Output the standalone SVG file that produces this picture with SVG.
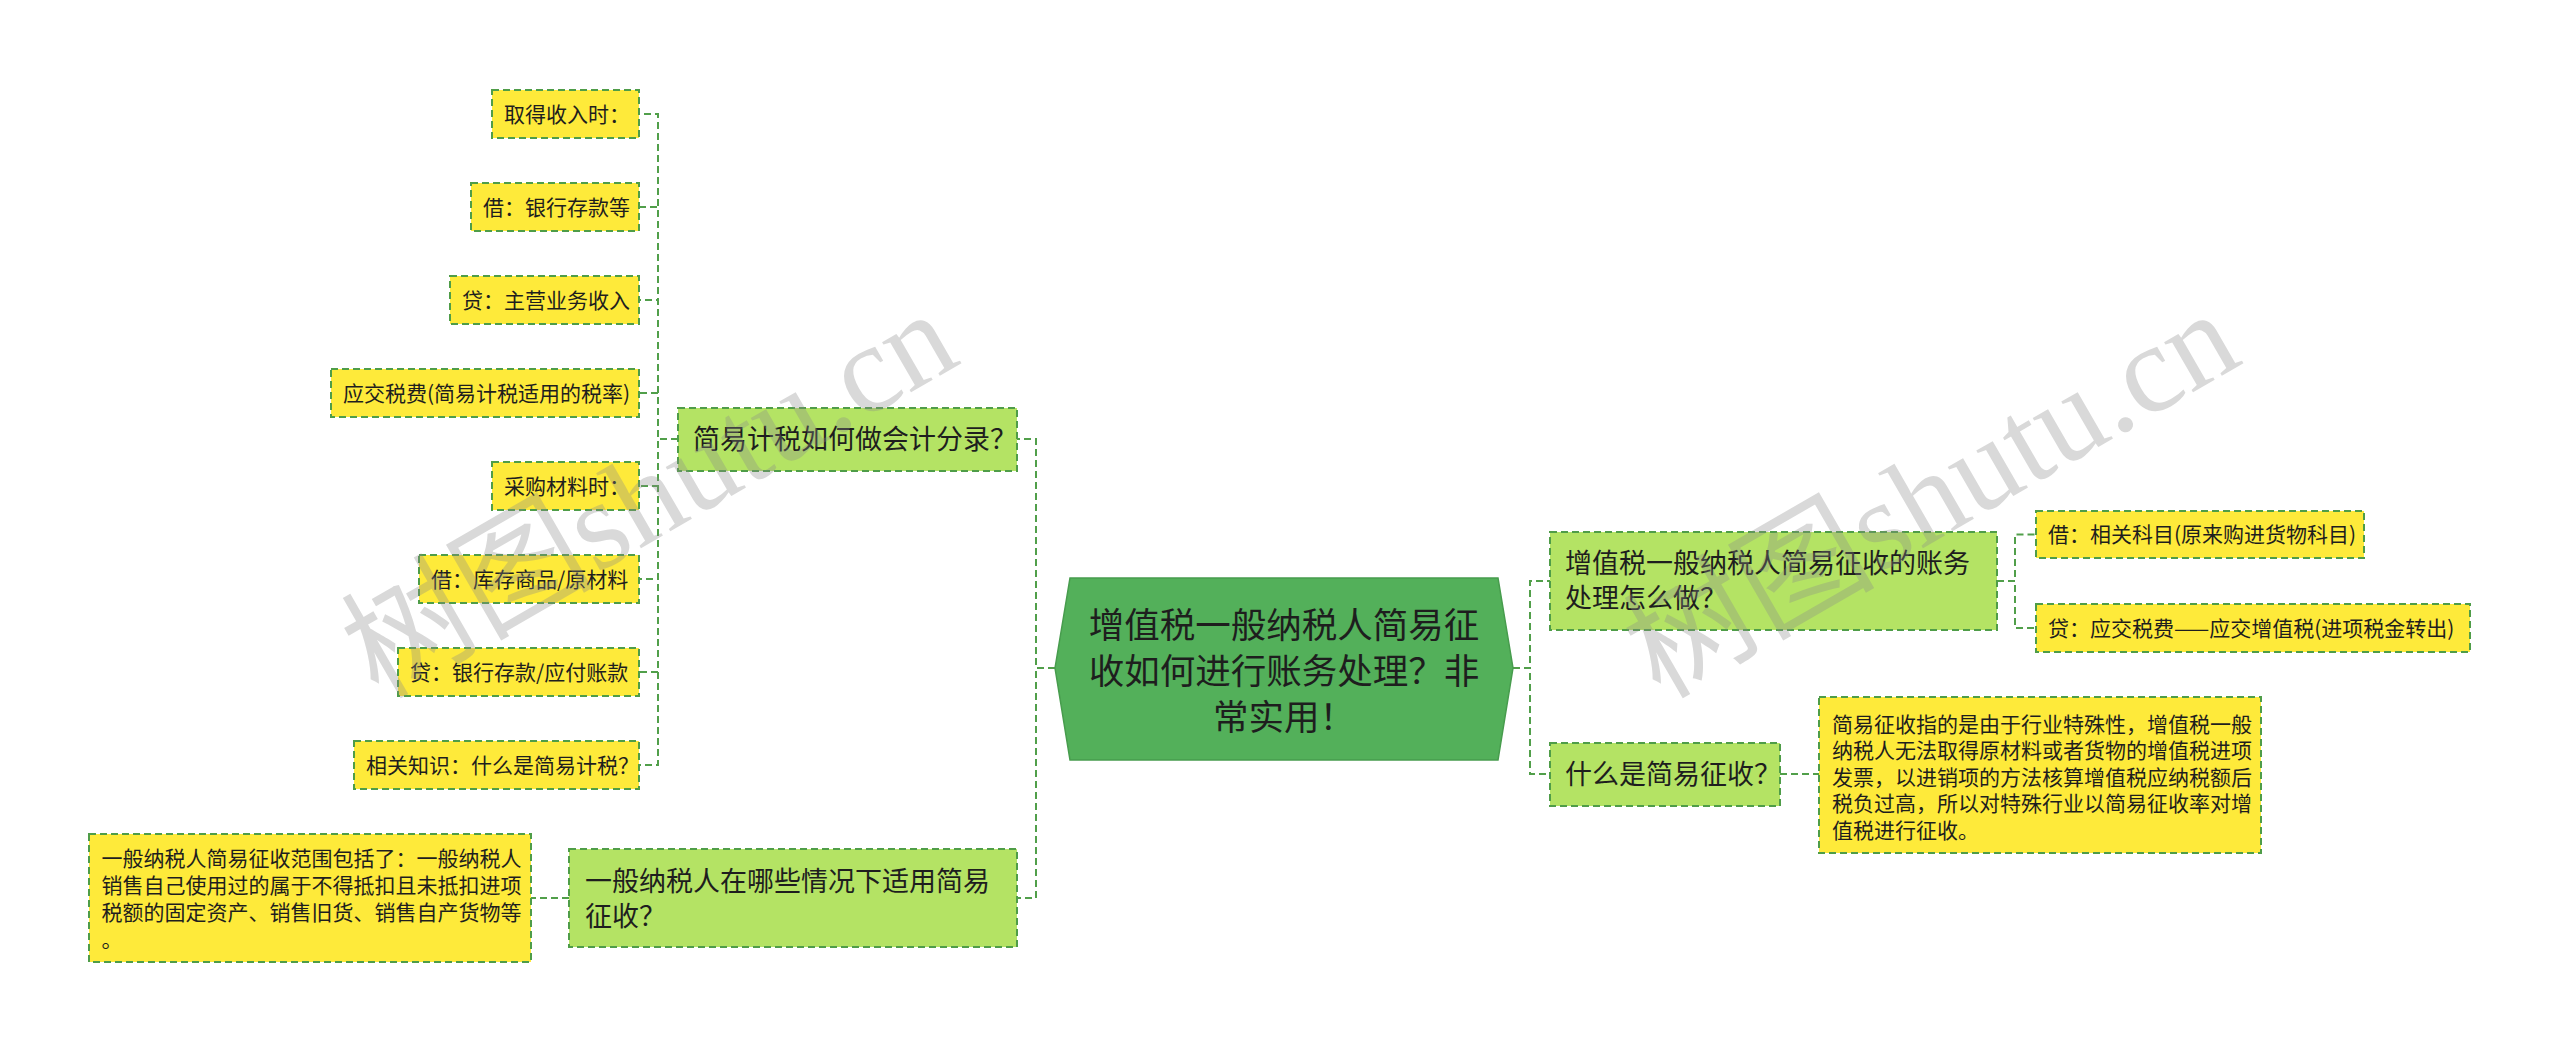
<svg xmlns="http://www.w3.org/2000/svg" width="2560" height="1053" viewBox="0 0 2560 1053">
<defs>
<style>
.t{font-family:"Noto Sans CJK SC","Noto Sans",sans-serif;fill:#1e1e1e}
.root{fill:#53b05a;stroke:#479c4d;stroke-width:1.5}
.l1{fill:#b4e364;stroke:#4f9d48;stroke-width:2;stroke-dasharray:7 4}
.leaf{fill:#feea3a;stroke:#4f9d48;stroke-width:2;stroke-dasharray:7 4}
.c{fill:none;stroke:#519f4a;stroke-width:2;stroke-dasharray:7 4}
.f36{font-size:35.5px}
.f27{font-size:27px}
.f21{font-size:21px}
.wm{font-family:"Liberation Serif","Noto Sans CJK SC",serif;font-size:126px;fill:#8a8a8a;opacity:0.32}
</style>
</defs>
<rect x="0" y="0" width="2560" height="1053" fill="#ffffff"/>

<g id="connectors">
<path class="c" d="M1055,668 H1036 V439 H1017"/>
<path class="c" d="M1055,668 H1036 V898 H1017"/>
<path class="c" d="M1513,668 H1530 V581 H1550"/>
<path class="c" d="M1513,668 H1530 V774 H1550"/>
<path class="c" d="M678,439 H658 V114 H639"/>
<path class="c" d="M678,439 H658 V207 H639"/>
<path class="c" d="M678,439 H658 V300 H639"/>
<path class="c" d="M678,439 H658 V393 H639"/>
<path class="c" d="M678,439 H658 V486 H639"/>
<path class="c" d="M678,439 H658 V579 H639"/>
<path class="c" d="M678,439 H658 V672 H639"/>
<path class="c" d="M678,439 H658 V765 H639"/>
<path class="c" d="M569,898 H531"/>
<path class="c" d="M1997,581 H2015 V534.5 H2036"/>
<path class="c" d="M1997,581 H2015 V628 H2036"/>
<path class="c" d="M1780,774 H1819"/>
</g>

<g id="root">
<polygon class="root" points="1055,668 1070,578 1498,578 1513,668 1498,760 1070,760"/>
<text class="t f36" x="1284" text-anchor="middle"><tspan x="1284" y="638">增值税一般纳税人简易征</tspan><tspan x="1284" y="684">收如何进行账务处理？非</tspan><tspan x="1284" y="730">常实用！</tspan></text>
</g>

<g id="n-jianyi-fenlu">
<rect class="l1" x="678" y="408" width="339" height="63"/>
<text class="t f27" x="693" y="449">简易计税如何做会计分录？</text>
</g>

<g id="n-qude">
<rect class="leaf" x="492" y="90" width="147" height="48"/>
<text class="t f21" x="504" y="121.5">取得收入时：</text>
</g>
<g id="n-jie-yinhang">
<rect class="leaf" x="471" y="183" width="168" height="48"/>
<text class="t f21" x="483" y="214.5">借：银行存款等</text>
</g>
<g id="n-dai-zhuying">
<rect class="leaf" x="450" y="276" width="189" height="48"/>
<text class="t f21" x="462" y="307.5">贷：主营业务收入</text>
</g>
<g id="n-yingjiao">
<rect class="leaf" x="331" y="369" width="308" height="48"/>
<text class="t f21" x="343" y="400.5">应交税费(简易计税适用的税率)</text>
</g>
<g id="n-caigou">
<rect class="leaf" x="492" y="462" width="147" height="48"/>
<text class="t f21" x="504" y="493.5">采购材料时：</text>
</g>
<g id="n-jie-kucun">
<rect class="leaf" x="419" y="555" width="220" height="48"/>
<text class="t f21" x="431" y="586.5">借：库存商品/原材料</text>
</g>
<g id="n-dai-yinhang">
<rect class="leaf" x="398" y="648" width="241" height="48"/>
<text class="t f21" x="410" y="679.5">贷：银行存款/应付账款</text>
</g>
<g id="n-xiangguan">
<rect class="leaf" x="354" y="741" width="285" height="48"/>
<text class="t f21" x="366" y="772.5">相关知识：什么是简易计税？</text>
</g>

<g id="n-naxie">
<rect class="l1" x="569" y="849" width="448" height="98"/>
<text class="t f27"><tspan x="585" y="891">一般纳税人在哪些情况下适用简易</tspan><tspan x="585" y="926">征收？</tspan></text>
</g>
<g id="n-fanwei">
<rect class="leaf" x="89" y="834" width="442" height="128"/>
<text class="t f21"><tspan x="101.5" y="865.5">一般纳税人简易征收范围包括了：一般纳税人</tspan><tspan x="101.5" y="892.5">销售自己使用过的属于不得抵扣且未抵扣进项</tspan><tspan x="101.5" y="919.5">税额的固定资产、销售旧货、销售自产货物等</tspan><tspan x="101.5" y="946.5">。</tspan></text>
</g>

<g id="n-zhangwu">
<rect class="l1" x="1550" y="532" width="447" height="98"/>
<text class="t f27"><tspan x="1565" y="573">增值税一般纳税人简易征收的账务</tspan><tspan x="1565" y="608">处理怎么做？</tspan></text>
</g>
<g id="n-jie-xiangguan">
<rect class="leaf" x="2036" y="511" width="328" height="47"/>
<text class="t f21" x="2048" y="542">借：相关科目(原来购进货物科目)</text>
</g>
<g id="n-dai-yingjiao">
<rect class="leaf" x="2036" y="604" width="434" height="48"/>
<text class="t f21" x="2048" y="635.5">贷：应交税费——应交增值税(进项税金转出)</text>
</g>

<g id="n-shenme">
<rect class="l1" x="1550" y="743" width="230" height="63"/>
<text class="t f27" x="1565" y="784">什么是简易征收？</text>
</g>
<g id="n-dingyi">
<rect class="leaf" x="1819" y="697" width="442" height="156"/>
<text class="t f21"><tspan x="1832" y="731.5">简易征收指的是由于行业特殊性，增值税一般</tspan><tspan x="1832" y="758">纳税人无法取得原材料或者货物的增值税进项</tspan><tspan x="1832" y="784.5">发票，以进销项的方法核算增值税应纳税额后</tspan><tspan x="1832" y="811">税负过高，所以对特殊行业以简易征收率对增</tspan><tspan x="1832" y="837.5">值税进行征收。</tspan></text>
</g>

<g id="watermarks">
<text class="wm" transform="translate(378,700) rotate(-30)" x="0" y="0">树图shutu.cn</text>
<text class="wm" transform="translate(1660,700) rotate(-30)" x="0" y="0">树图shutu.cn</text>
</g>
</svg>
